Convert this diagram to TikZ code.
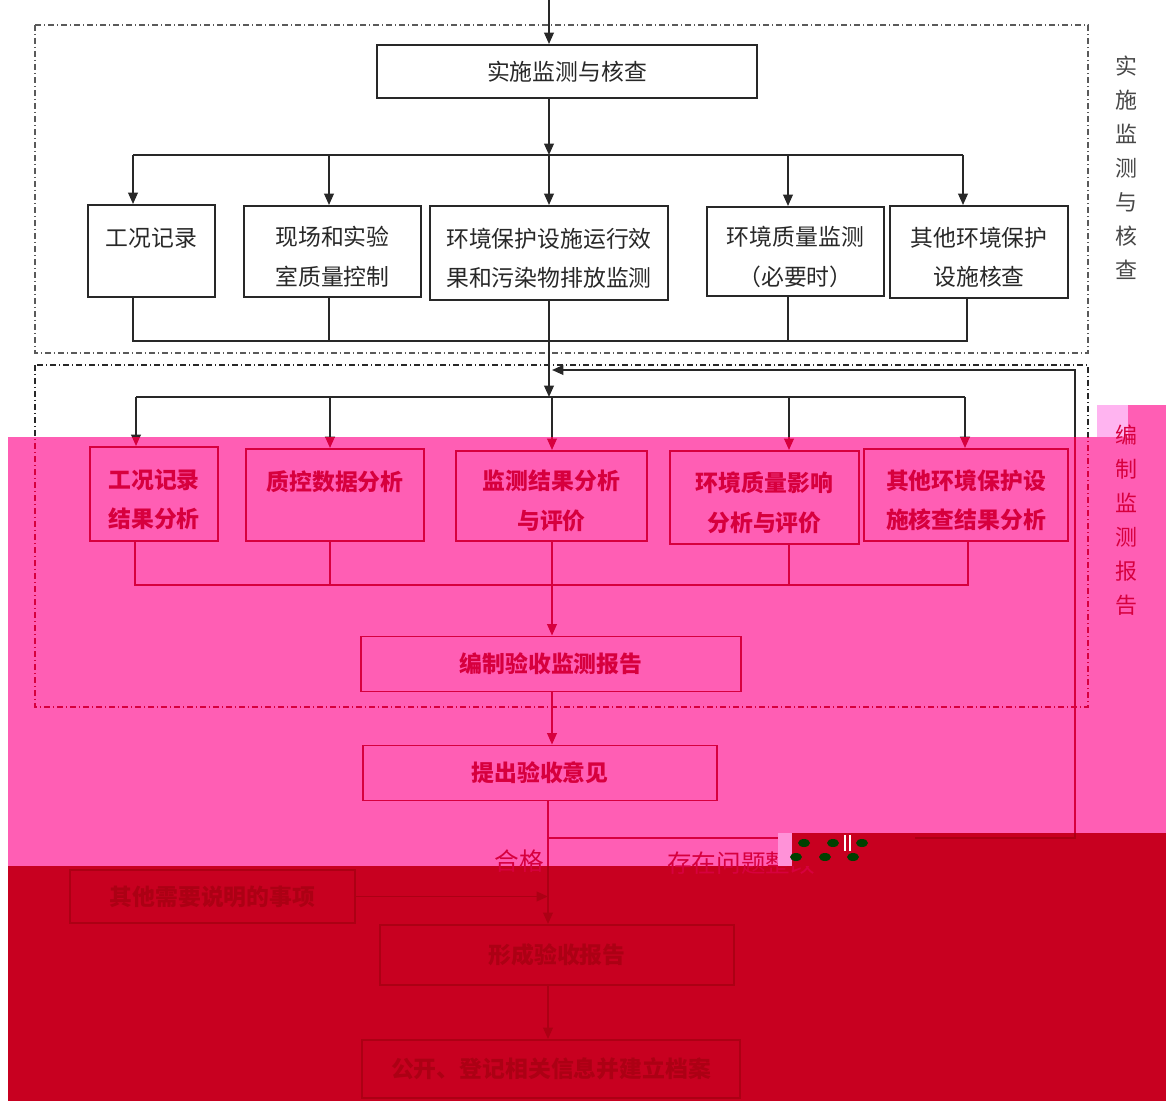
\documentclass[tikz,border=0pt]{standalone}
\usepackage{fontspec}
\newfontfamily\cjk{Noto Sans CJK SC}
\usetikzlibrary{arrows.meta}

\definecolor{pinkbg}{RGB}{255,94,180}
\definecolor{palepink}{RGB}{255,180,240}
\definecolor{darkbg}{RGB}{200,0,32}
\definecolor{topink}{RGB}{40,40,40}
\definecolor{framegray}{RGB}{90,90,90}
\definecolor{midink}{RGB}{215,0,62}
\definecolor{lowink}{RGB}{172,0,20}

\tikzset{
  box/.style 2 args={draw, line width=1.1pt, minimum width={#1*0.02cm},
    minimum height={#2*0.02cm}, align=center, inner sep=0pt,
    font=\cjk\fontsize{13}{22.5}\selectfont},
  heavy/.style={font=\cjk\bfseries\fontsize{13}{22.5}\selectfont},
  line/.style={line width=1pt},
  frame/.style={line width=0.9pt, dash pattern=on 3.4pt off 1.6pt on 0.8pt off 1.6pt},
  side/.style={align=center, inner sep=0pt, font=\cjk\fontsize{12.5}{19.4}\selectfont},
  tag/.style={inner sep=0pt, font=\cjk\fontsize{14}{15}\selectfont},
}
% first line of a box sits a little low
\newcommand\low{\rule{0pt}{17pt}}

% paths that run over more than one colour band
\newcommand\crosspaths{%
  \draw[frame] (35,365) rectangle (1088,707);
  \foreach \p/\n in {b2a/r2a,b2b/r2b,b2c/r2c,b2d/r2d,b2e/r2e}
    \draw[line,->] (\p) -- (\p |- \n.north);
  \draw[line,->] (opin.south -| m3) -- (m3 |- form.north);
  \draw[line,->] (m3) -- (fb1) -- (fb2) -- (fb3);
}

\begin{document}
\begin{tikzpicture}[x=0.02cm, y=-0.02cm, >={Triangle[length=6.5pt,width=5.5pt]}]
  \useasboundingbox (0,0) rectangle (1166,1101);
  % colour bands
  \fill[white] (0,0) rectangle (1166,1101);
  \fill[pinkbg] (8,437) -- (1128,437) -- (1128,405) -- (1166,405) -- (1166,833)
    -- (778,833) -- (778,866) -- (8,866) -- cycle;
  \fill[palepink] (1097,405) rectangle (1128,437);
  \fill[darkbg] (8,866) -- (778,866) -- (778,833) -- (1166,833) -- (1166,1101)
    -- (8,1101) -- cycle;

  % points on the connectors
  \coordinate (in) at (549,0);
  \coordinate (m1) at (549,155);
  \coordinate (m2) at (549,397);
  \coordinate (m3) at (548,838);
  \coordinate (fb1) at (1075,838);
  \coordinate (fb2) at (1075,370);
  \coordinate (fb3) at (552,370);
  \foreach \n/\x in {a/133,b/329,c/549,d/788,e/963} \coordinate (b1\n) at (\x,155);
  \foreach \n/\x in {a/133,b/329,c/549,d/788,e/967} \coordinate (c1\n) at (\x,341);
  \foreach \n/\x in {a/136,b/330,c/552,d/789,e/965} \coordinate (b2\n) at (\x,397);
  \foreach \n/\x in {a/135,b/330,c/552,d/789,e/968} \coordinate (c2\n) at (\x,585);

  % implementing monitoring and inspection
  \begin{scope}[color=topink]
    \draw[frame, framegray] (35,25) rectangle (1088,353);
    \node[box={380}{53}] (top) at (567,71.5) {实施监测与核查};
    \node[box={127}{92}] (r1a) at (151.5,251) {\low 工况记录\\\mbox{}};
    \node[box={177}{91}] (r1b) at (332.5,251.5) {\low 现场和实验\\室质量控制};
    \node[box={238}{94}] (r1c) at (549,253) {\low 环境保护设施运行效\\果和污染物排放监测};
    \node[box={177}{89}] (r1d) at (795.5,251.5) {\low 环境质量监测\\（必要时）};
    \node[box={178}{92}] (r1e) at (979,252) {\low 其他环境保护\\设施核查};
    \node[side, framegray!80!black] (s1) at (1126,167.5) {实\\施\\监\\测\\与\\核\\查};
    \draw[line,->] (in) -- (in |- top.north);
    \draw[line,->] (top.south -| m1) -- (m1);
    \draw[line] (b1a) -- (b1e);
    \foreach \n in {a,b,c,d,e}
      \draw[line,->] (b1\n) -- (b1\n |- r1\n.north);
    \draw[line] (r1a.south -| c1a) -- (c1a) -- (c1e) -- (r1e.south -| c1e);
    \draw[line] (r1b.south -| c1b) -- (c1b);
    \draw[line] (r1d.south -| c1d) -- (c1d);
    \draw[line,->] (r1c.south -| c1c) -- (m2);
    \draw[line] (b2a) -- (b2e);
  \end{scope}

  % compiling the monitoring report
  \begin{scope}[color=midink]
    \node[box={128}{94}, heavy] (r2a) at (154,494) {\low 工况记录\\结果分析};
    \node[box={178}{92}, heavy] (r2b) at (335,495) {\low 质控数据分析\\\mbox{}};
    \node[box={191}{90}, heavy] (r2c) at (551.5,496) {\low 监测结果分析\\与评价};
    \node[box={189}{93}, heavy] (r2d) at (764.5,497.5) {\low 环境质量影响\\分析与评价};
    \node[box={204}{92}, heavy] (r2e) at (966,495) {\low 其他环境保护设\\施核查结果分析};
    \node[box={380}{55}, heavy] (rep) at (551,664) {编制验收监测报告};
    \node[box={354}{55}, heavy] (opin) at (540,773) {提出验收意见};
    \node[side] (s2) at (1126,520) {编\\制\\监\\测\\报\\告};
    \node[tag] (ok) at (519,861) {合格};
    \node[tag, anchor=west] (fix) at (667,863) {存在问题整改};
    \draw[line] (r2a.south -| c2a) -- (c2a) -- (c2e) -- (r2e.south -| c2e);
    \draw[line] (r2b.south -| c2b) -- (c2b);
    \draw[line] (r2d.south -| c2d) -- (c2d);
    \draw[line,->] (r2c.south -| c2c) -- (c2c |- rep.north);
    \draw[line,->] (rep.south -| c2c) -- (c2c |- opin.north);
  \end{scope}

  % acceptance report
  \begin{scope}[color=lowink]
    \node[box={285}{53}, heavy] (other) at (212.5,896.5) {其他需要说明的事项};
    \node[box={354}{60}, heavy] (form) at (557,955) {形成验收报告};
    \node[box={378}{58}, heavy] (pub) at (551,1069) {公开、登记相关信息并建立档案};
    \draw[line,->] (other.east) -- (other.east -| m3);
    \draw[line,->] (form.south -| m3) -- (m3 |- pub.north);
  \end{scope}

  % the connectors crossing the bands, once per band
  \begin{scope}[color=topink]
    \clip (0,0) rectangle (1166,437);
    \crosspaths
  \end{scope}
  \begin{scope}[color=midink]
    \clip (0,437) -- (1166,437) -- (1166,833) -- (778,833) -- (778,866) -- (0,866) -- cycle;
    \crosspaths
  \end{scope}
  \begin{scope}[color=lowink]
    \clip (0,866) -- (778,866) -- (778,833) -- (1166,833) -- (1166,1101) -- (0,1101) -- cycle;
    \crosspaths
  \end{scope}

  % broken patch over the label
  \fill[darkbg] (778,833) rectangle (915,866);
  \fill[palepink!60!pinkbg] (778,833) rectangle (792,866);
  \foreach \x/\y in {804/843,833/843,862/843,796/857,825/857,853/857}
    \fill[black!75!green] (\x,\y) ellipse (6 and 4);
  \draw[white, line width=0.6pt] (845,835) -- (845,851) (850,835) -- (850,851);
\end{tikzpicture}
\end{document}
